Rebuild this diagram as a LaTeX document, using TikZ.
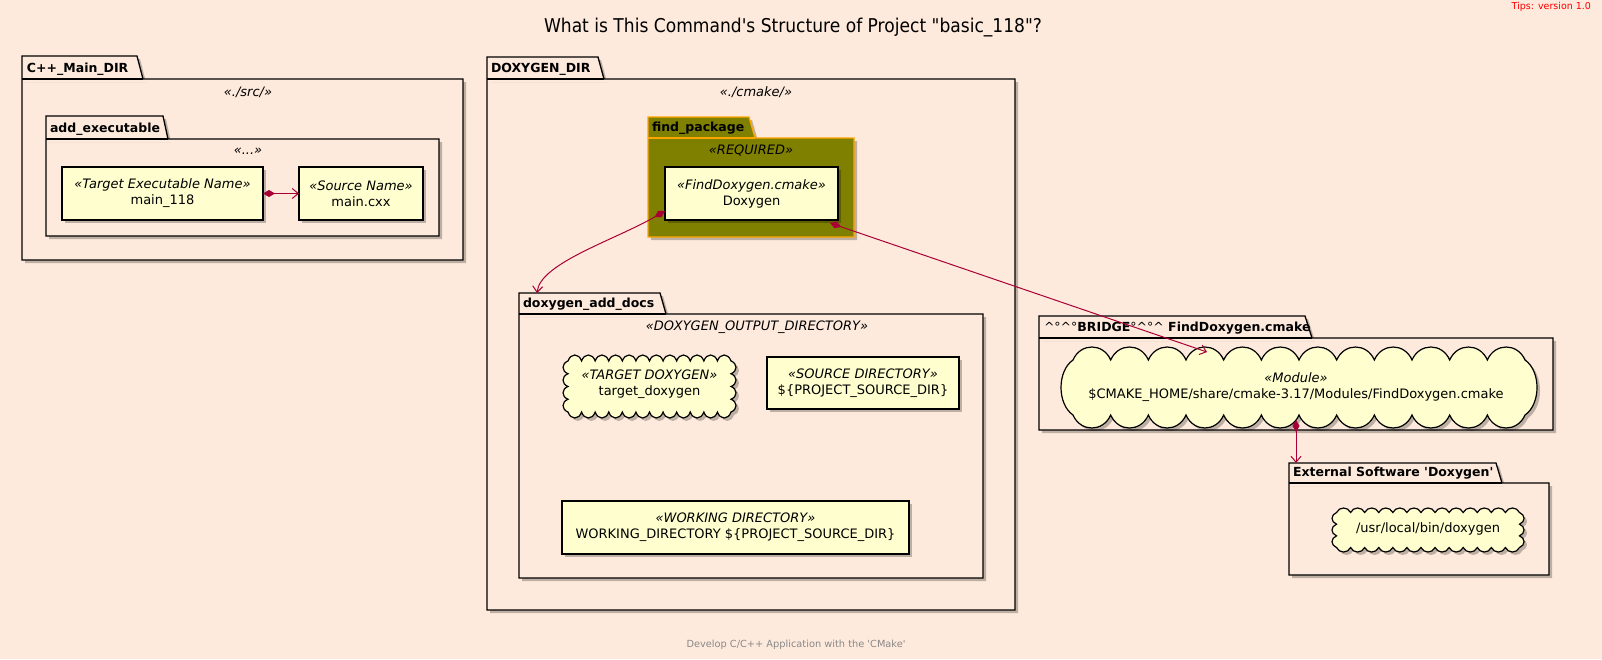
\documentclass[tikz,border=0pt]{standalone}
\usepackage{fontspec}
\usepackage{graphicx}
\setmainfont{DejaVu Sans}[Ligatures=TeXOff]
\usetikzlibrary{arrows.meta,shadows,calc}
\definecolor{bg}{HTML}{FEEADC}
\definecolor{nodefill}{HTML}{FEFECE}
\definecolor{arr}{HTML}{A80036}
\definecolor{olivec}{HTML}{808000}
\definecolor{orangeb}{HTML}{FFA500}
\definecolor{footgray}{HTML}{888888}
\newcommand\sq{\symbol{39}}
\newcommand\dq{\symbol{34}}
\newcommand\umlpkg[8]{%
  \draw[#8] (#1,#7) -- (#1,#2) -- (#3,#2) -- (#4,#5) -- (#6,#5) -- (#6,#7) -- cycle;
  \draw[#8,fill=none,drop shadow={opacity=0}] (#1,#5) -- (#4,#5);
}
% x1 y1 x2 y2 (inner), nx, ny, peak h (top/bottom), peak v (sides)
\newcommand\umlcloud[8]{%
  (#1,#2)
  foreach \i in {1,...,#5} { .. controls ({#1+(\i-1+0.2)*(#3-#1)/#5},{#2-1.333*#7}) and ({#1+(\i-0.2)*(#3-#1)/#5},{#2-1.333*#7}) .. ({#1+\i*(#3-#1)/#5},#2) }
  foreach \j in {1,...,#6} { .. controls ({#3+1.333*#8},{#2+(\j-1+0.2)*(#4-#2)/#6}) and ({#3+1.333*#8},{#2+(\j-0.2)*(#4-#2)/#6}) .. (#3,{#2+\j*(#4-#2)/#6}) }
  foreach \i in {1,...,#5} { .. controls ({#3-(\i-1+0.2)*(#3-#1)/#5},{#4+1.333*#7}) and ({#3-(\i-0.2)*(#3-#1)/#5},{#4+1.333*#7}) .. ({#3-\i*(#3-#1)/#5},#4) }
  foreach \j in {1,...,#6} { .. controls ({#1-1.333*#8},{#4-(\j-1+0.2)*(#4-#2)/#6}) and ({#1-1.333*#8},{#4-(\j-0.2)*(#4-#2)/#6}) .. (#1,{#4-\j*(#4-#2)/#6}) }
  -- cycle
}
\begin{document}
\begin{tikzpicture}[x=1pt,y=-1pt,
  every node/.style={inner sep=0pt, outer sep=0pt},
  lw/.style={line width=1.3pt},
  shad/.style={drop shadow={shadow xshift=3pt,shadow yshift=-3pt,opacity=0.25,fill=black}},
  pkgbody/.style={draw=black, fill=bg, lw, shad},
  fpbody/.style={draw=orangeb, fill=olivec, lw, shad},
  pkgname/.style={anchor=base west, font=\bfseries\fontsize{12.5}{15}\selectfont},
  stereo/.style={anchor=base, font=\itshape\fontsize{13}{15}\selectfont},
  classbox/.style={draw=black, fill=nodefill, lw, shad, align=center, font=\fontsize{13}{16}\selectfont},
  cloudline/.style={draw=black, fill=nodefill, line width=1.2pt, shad},
  cloudtext/.style={align=center, font=\fontsize{13}{16}\selectfont},
  conn/.style={draw=arr, line width=1pt, arrows={Diamond[length=12pt,width=7pt]-Straight Barb[length=6pt,width=10pt]}},
]
\fill[bg] (0,0) rectangle (1602,659);
\useasboundingbox (0,0) rectangle (1602,659);

% title, tips, footer
\node[anchor=base, font=\fontsize{19}{22}\selectfont] (title) at (793,32)
  {\scalebox{0.9}[1]{What is This Command\sq s Structure of Project \dq basic\_118\dq ?}};
\node[anchor=base east, font=\fontsize{9.5}{11}\selectfont, text=red] (tips) at (1591,9.5) {Tips: version 1.0};
\node[anchor=base, font=\fontsize{9.8}{11}\selectfont, text=footgray] (footer) at (796,647)
  {Develop C/C++ Application with the \sq CMake\sq};

% C++_Main_DIR
\umlpkg{22}{56}{137}{143}{79}{463}{260}{pkgbody}
\node[pkgname] (cppname) at (27,72) {C++\_Main\_DIR};
\node[stereo] (cppst) at (248,96.5) {«./src/»};
\umlpkg{46}{116}{163}{168}{139}{439}{236}{pkgbody}
\node[pkgname] (aename) at (50,132) {add\_executable};
\node[stereo] (aest) at (248,154.5) {«...»};
\node[classbox, minimum width=201pt, minimum height=53pt] (tgtexe) at (162.5,193.5)
  {\textit{«Target Executable Name»}\\main\_118};
\node[classbox, minimum width=124pt, minimum height=53pt] (srcname) at (361,193.5)
  {\textit{«Source Name»}\\main.cxx};

% DOXYGEN_DIR
\umlpkg{487}{57}{598}{604}{79}{1015}{610}{pkgbody}
\node[pkgname] (dxname) at (491,72) {DOXYGEN\_DIR};
\node[stereo] (dxst) at (756,96.5) {«./cmake/»};
\umlpkg{648}{117}{749}{755}{138}{854}{237}{fpbody}
\node[pkgname] (fpname) at (652,131) {find\_package};
\node[stereo] (fpst) at (751,154.5) {«REQUIRED»};
\node[classbox, minimum width=173pt, minimum height=53pt] (doxy) at (751.5,193.5)
  {\textit{«FindDoxygen.cmake»}\\Doxygen};

\umlpkg{519}{293}{660}{666}{314}{983}{578}{pkgbody}
\node[pkgname] (dadname) at (523,307) {doxygen\_add\_docs};
\node[stereo] (dadst) at (757,330.5) {«DOXYGEN\_OUTPUT\_DIRECTORY»};
\coordinate (dadin) at (537,293);
\draw[cloudline] \umlcloud{568}{361}{731}{412}{12}{4}{6}{5};
\node[cloudtext] (tgtdox) at (649.5,384) {\textit{«TARGET DOXYGEN»}\\target\_doxygen};
\node[classbox, minimum width=192pt, minimum height=52pt] (srcdir) at (863,383)
  {\textit{«SOURCE DIRECTORY»}\\\$\{PROJECT\_SOURCE\_DIR\}};
\node[classbox, minimum width=347pt, minimum height=53pt] (workdir) at (735.5,527.5)
  {\textit{«WORKING DIRECTORY»}\\WORKING\_DIRECTORY \$\{PROJECT\_SOURCE\_DIR\}};

% BRIDGE
\umlpkg{1039}{316}{1305}{1312}{338}{1553}{430}{pkgbody}
\node[pkgname] (brname) at (1044,331)
  {{\mdseries\textasciicircum°\textasciicircum°}BRIDGE{\mdseries°\textasciicircum°\textasciicircum} FindDoxygen.cmake};
\draw[cloudline] \umlcloud{1073}{360}{1525}{415}{12}{1}{13}{12};
\node[cloudtext, minimum height=66pt] (mod) at (1296,387)
  {\textit{«Module»}\\\$CMAKE\_HOME/share/cmake-3.17/Modules/FindDoxygen.cmake};
\coordinate (modin) at (1207,352);

% External Software
\umlpkg{1289}{463}{1496}{1502}{483}{1549}{575}{pkgbody}
\node[pkgname] (extname) at (1293,476) {External Software \sq Doxygen\sq};
\coordinate (extin) at (1296,463);
\draw[cloudline] \umlcloud{1336.5}{512.5}{1519.5}{547.5}{13}{3}{4.5}{4.5};
\node[cloudtext] (usrbin) at (1428,529) {/usr/local/bin/doxygen};

% connectors
\draw[conn] (tgtexe.east) -- (srcname.west);
\draw[conn] ($(doxy.south west)+(0,-9)$) .. controls +(-50,29) and +(3,-30) .. (dadin);
\draw[conn] ($(doxy.south east)+(-8,3)$) -- (modin);
\draw[conn] (mod.south) -- (extin);
\end{tikzpicture}
\end{document}
